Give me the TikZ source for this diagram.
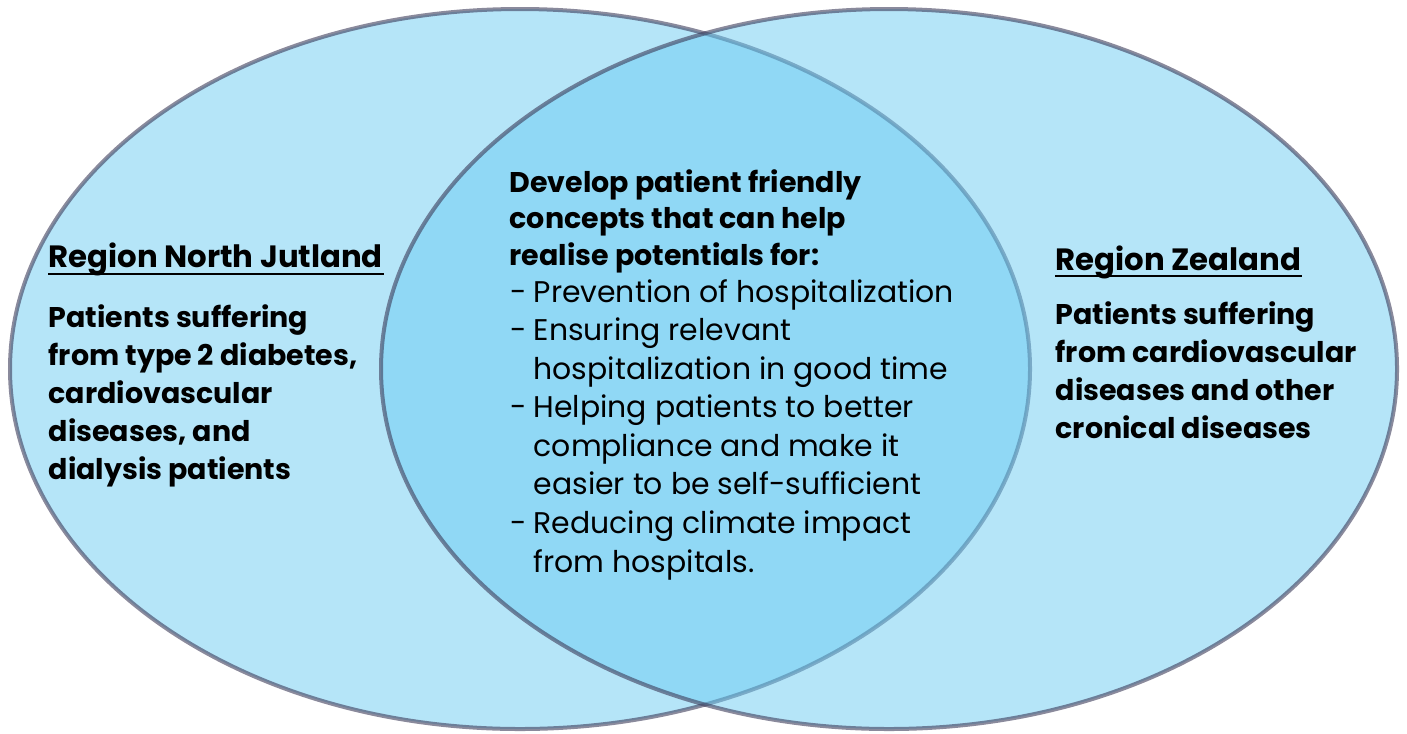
\documentclass[tikz,border=0pt]{standalone}
\usepackage{fontspec}
\setmainfont{Poppins}

\definecolor{vennfill}{RGB}{107,203,242}
\definecolor{vennline}{RGB}{60,60,90}

\newcommand{\itemdash}{\makebox[0.23cm][l]{-}}
\newcommand{\itemcont}{\hspace*{0.23cm}}

\tikzset{
  region/.style={draw=vennline,draw opacity=0.6,fill=vennfill,fill opacity=0.5,line width=0.04cm},
  heading/.style={font=\bfseries\fontsize{8.75pt}{10.9pt}\selectfont},
  headline/.style={line width=0.02cm,draw=black},
  boldtext/.style={font=\bfseries\fontsize{8.1pt}{10.8pt}\selectfont},
  goaltext/.style={font=\bfseries\fontsize{8.1pt}{10.24pt}\selectfont},
  listtext/.style={font=\fontsize{8.5pt}{10.96pt}\selectfont}
}

\begin{document}
\begin{tikzpicture}[x=0.01cm,y=-0.01cm]
\useasboundingbox (0,0) rectangle (1407,733);

\draw[region] (520,369) ellipse [x radius=510, y radius=360];
\draw[region] (889,369) ellipse [x radius=508, y radius=360];

% nodes sit on the baseline of their last line
\begin{scope}[every node/.style={inner sep=0pt,anchor=base west,align=left,text=black}]
	\node[heading] (jutland) at (48,267) {Region North Jutland};
	\node[boldtext] (jutlandtext) at (48,479) {Patients suffering\\from type 2 diabetes,\\cardiovascular\\diseases, and\\dialysis patients};

	\node[goaltext] (goal) at (509,265) {Develop patient friendly\\concepts that can help\\realise potentials for:};
	\node[listtext] (goallist) at (510,572) {\itemdash Prevention of hospitalization\\
		\itemdash Ensuring relevant\\
		\itemcont hospitalization in good time\\
		\itemdash Helping patients to better\\
		\itemcont compliance and make it\\
		\itemcont easier to be self-sufficient\\
		\itemdash Reducing climate impact\\
		\itemcont from hospitals.};

	\node[heading] (zealand) at (1055,270) {Region Zealand};
	\node[boldtext] (zealandtext) at (1055,438) {Patients suffering\\from cardiovascular\\diseases and other\\cronical diseases};
\end{scope}

\draw[headline] ([yshift=-0.065cm]jutland.base west) -- ([yshift=-0.065cm]jutland.base east);
\draw[headline] ([yshift=-0.055cm]zealand.base west) -- ([yshift=-0.055cm]zealand.base east);

\end{tikzpicture}
\end{document}
